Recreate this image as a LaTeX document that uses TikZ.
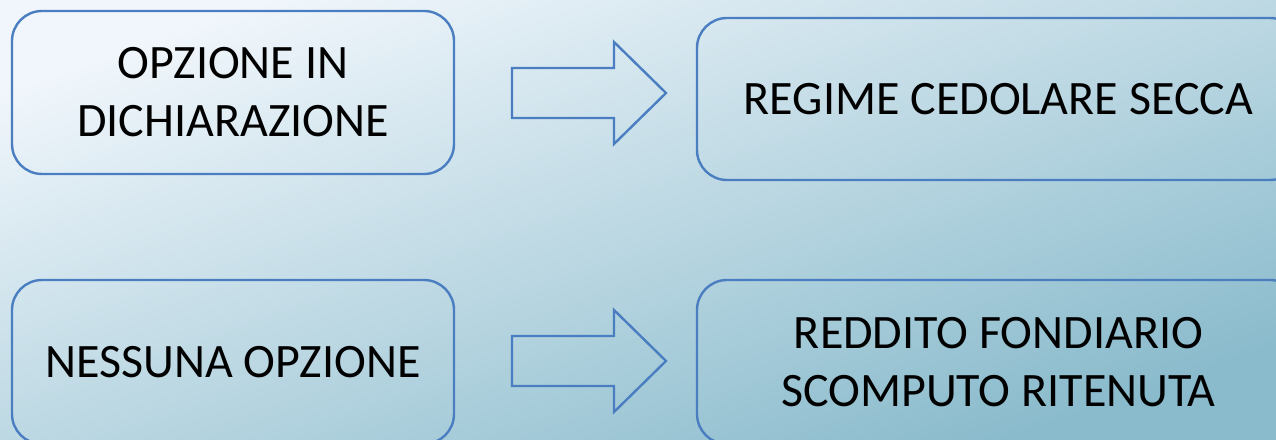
\documentclass[tikz,border=0pt]{standalone}
\usepackage{fontspec}
\setmainfont{Carlito}
\definecolor{bglight}{RGB}{240,246,251}
\definecolor{bgdark}{RGB}{138,187,204}
\definecolor{edgeblue}{RGB}{74,126,193}
\begin{document}
\begin{tikzpicture}[x=1pt,y=1pt,
  panel/.style={draw=edgeblue, line width=2.4pt, rounded corners=30pt,
    inner sep=0pt, align=center, text=black,
    font=\fontsize{48}{58}\selectfont},
  blockarrow/.style={draw=edgeblue, line width=2.4pt, line join=miter}]
  \useasboundingbox (0,0) rectangle (1276,439);
  \clip (0,0) rectangle (1276,439);
  % soft diagonal background
  \shade[top color=bglight, bottom color=bgdark, shading angle=19]
    (0,0) rectangle (1276,439);
  % boxes (page y = 439 - pixel row)
  \node[panel, minimum width=442pt, minimum height=163pt] (opt) at (233,346.5)
    {OPZIONE IN\\DICHIARAZIONE};
  \node[panel, minimum width=603pt, minimum height=162pt] (ced) at (998.5,340)
    {REGIME CEDOLARE SECCA};
  \node[panel, minimum width=442pt, minimum height=164pt] (none) at (233,77)
    {NESSUNA OPZIONE};
  \node[panel, minimum width=603pt, minimum height=164pt] (fond) at (998.5,77)
    {REDDITO FONDIARIO\\SCOMPUTO RITENUTA};
  % block arrows between the columns
  \coordinate (a1) at (512,346);
  \draw[blockarrow] (a1) ++(0,25) -- ++(102,0) -- ++(0,26) -- ++(52,-51)
    -- ++(-52,-51) -- ++(0,26) -- ++(-102,0) -- cycle;
  \coordinate (a2) at (512,78);
  \draw[blockarrow] (a2) ++(0,25) -- ++(102,0) -- ++(0,26) -- ++(52,-51)
    -- ++(-52,-51) -- ++(0,26) -- ++(-102,0) -- cycle;
\end{tikzpicture}
\end{document}
